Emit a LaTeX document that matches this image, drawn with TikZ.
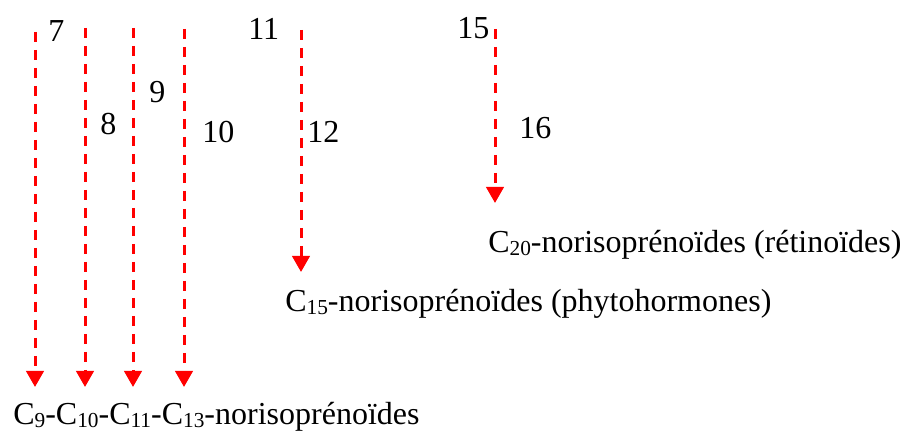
\documentclass[tikz,border=0pt]{standalone}
\usepackage{fontspec}
\setmainfont{Liberation Serif}
\usetikzlibrary{arrows.meta}
\newcommand\subs[1]{\raisebox{-0.08em}{\fontsize{16}{16}\selectfont #1}}
\begin{document}
\begin{tikzpicture}[x=0.75pt,y=-0.75pt,
	flow/.style={draw=red, line width=2.25pt, dash pattern=on 7.5pt off 6pt, -{Triangle[width=13pt,length=12pt]}},
	num/.style={inner sep=0pt, anchor=base west, font=\fontsize{24}{28}\selectfont},
	prod/.style={inner sep=0pt, anchor=base west, font=\fontsize{24}{28}\selectfont}]
	\useasboundingbox (0,0) rectangle (901,431);
	% cleavage sites
	\coordinate (t7) at (35,32);
	\coordinate (t8) at (85,28);
	\coordinate (t9) at (133,28);
	\coordinate (t10) at (184,29);
	\coordinate (t12) at (301,30);
	\coordinate (t16) at (495,29);
	\coordinate (e7) at (35,387);
	\coordinate (e8) at (85,387);
	\coordinate (e9) at (133,387);
	\coordinate (e10) at (184,387);
	\coordinate (e12) at (301,272);
	\coordinate (e16) at (495,203);
	\node[num] (n7) at (48,42) {7};
	\node[num] (n8) at (100,135) {8};
	\node[num] (n9) at (149,103) {9};
	\node[num] (n10) at (202,143) {10};
	\node[num] (n11) at (248,40) {11};
	\node[num] (n12) at (307,143) {12};
	\node[num] (n15) at (457,39) {15};
	\node[num] (n16) at (519,139) {16};
	% products
	\node[prod] (p20) at (488,253) {C\subs{20}-norisoprénoïdes (rétinoïdes)};
	\node[prod] (p15) at (285,312) {C\subs{15}-norisoprénoïdes (phytohormones)};
	\node[prod] (p9) at (13,425) {C\subs{9}-C\subs{10}-C\subs{11}-C\subs{13}-norisoprénoïdes};
	\draw[flow] (t7)--(e7);
	\draw[flow] (t8)--(e8);
	\draw[flow] (t9)--(e9);
	\draw[flow] (t10)--(e10);
	\draw[flow] (t12)--(e12);
	\draw[flow] (t16)--(e16);
\end{tikzpicture}
\end{document}
